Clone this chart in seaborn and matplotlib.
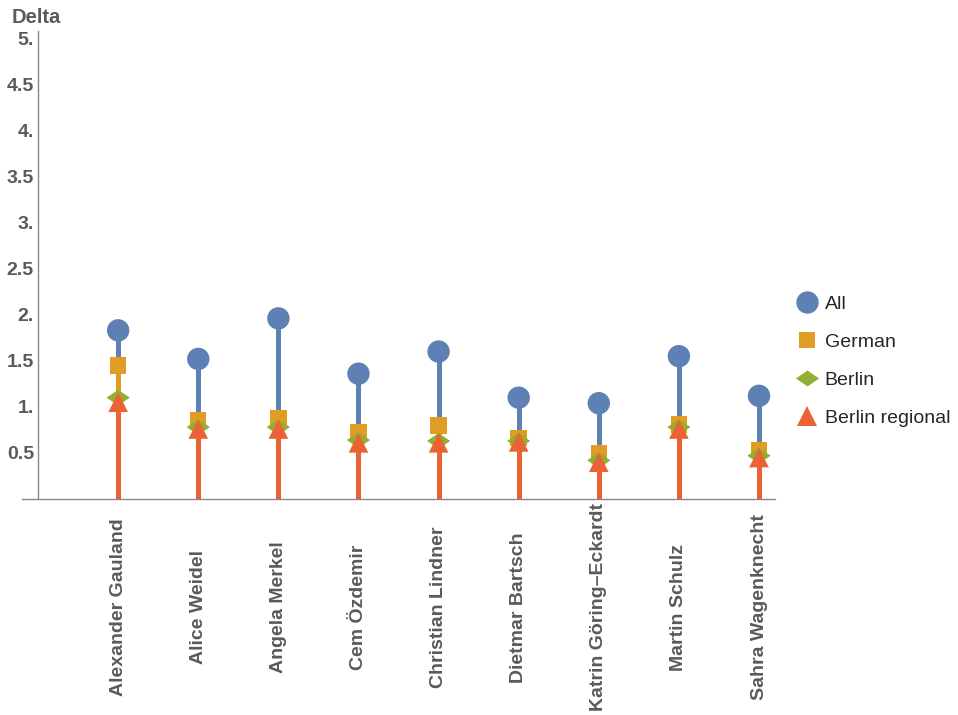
import numpy as np
import pandas as pd
import seaborn as sns
import matplotlib.pyplot as plt
from matplotlib.lines import Line2D
from matplotlib.ticker import FixedLocator

# data
politicians = ['Alexander Gauland', 'Alice Weidel', 'Angela Merkel', 'Cem Özdemir',
               'Christian Lindner', 'Dietmar Bartsch', 'Katrin Göring–Eckardt',
               'Martin Schulz', 'Sahra Wagenknecht']
delta_all = [1.83, 1.52, 1.96, 1.36, 1.60, 1.10, 1.04, 1.55, 1.12]
delta_german = [1.45, 0.86, 0.88, 0.72, 0.80, 0.66, 0.50, 0.81, 0.53]
delta_berlin = [1.10, 0.78, 0.78, 0.64, 0.63, 0.63, 0.42, 0.78, 0.47]
delta_regional = [1.05, 0.76, 0.76, 0.61, 0.61, 0.62, 0.40, 0.76, 0.45]

series_names = ['All', 'German', 'Berlin', 'Berlin regional']
ytick_values = [0.5, 1, 1.5, 2, 2.5, 3, 3.5, 4, 4.5, 5]
ytick_labels = ['0.5', '1.', '1.5', '2.', '2.5', '3.', '3.5', '4.', '4.5', '5.']

cores = ['#5E81B5', '#E19C24', '#8FB032', '#EB6235']
flat_diamond = [(-1, 0), (0, 0.68), (1, 0), (0, -0.68), (-1, 0)]
marcadores = ['o', 's', flat_diamond, '^']
tamanhos = [260, 140, 280, 200]

sns.set_style('white')
plt.rcParams['font.family'] = ['Liberation Sans', 'DejaVu Sans']
cinza = '#5a5a5a'

fig = plt.figure(figsize=(9.58, 7.15), dpi=100)
ax = fig.add_axes([0.023, 0.302, 0.786, 0.655])

pos = np.arange(1, len(politicians) + 1)
valores = [delta_all, delta_german, delta_berlin, delta_regional]

# hastes primeiro (mesma largura, a última cobre as anteriores), marcadores por cima
for nome, vals, cor in zip(series_names, valores, cores):
    ax.vlines(pos, 0, vals, color=cor, linewidth=3.5, zorder=2, antialiased=False)
for nome, vals, cor, m, s in zip(series_names, valores, cores, marcadores, tamanhos):
    df = pd.DataFrame({'x': pos, 'y': vals})
    sns.scatterplot(data=df, x='x', y='y', marker=m, s=s, color=cor,
                    edgecolor='none', linewidth=0, ax=ax, zorder=3, legend=False)

ax.set_xlim(-0.2, 9.2)
ax.set_ylim(0, 5.08)
ax.set_xlabel('')
ax.set_ylabel('')

ax.spines['top'].set_visible(False)
ax.spines['right'].set_visible(False)
ax.spines['left'].set_position(('data', 0))
for sp in ['left', 'bottom']:
    ax.spines[sp].set_color('#888888')
    ax.spines[sp].set_linewidth(1.0)

ax.yaxis.set_major_locator(FixedLocator(ytick_values))
ax.set_yticklabels(ytick_labels, fontsize=14, fontweight='bold', color=cinza)
ax.set_xticks(pos)
ax.set_xticklabels(politicians, rotation=90, fontsize=14, fontweight='bold',
                   color=cinza, va='center')
ax.tick_params(axis='both', length=0)
ax.tick_params(axis='y', pad=3)
ax.tick_params(axis='x', pad=78)

fig.text(0.012, 0.975, 'Delta', fontsize=14.5, fontweight='bold', color=cinza,
         ha='left', va='center')

handles = [Line2D([], [], linestyle='none', marker=m, color=c, markersize=np.sqrt(s),
                  markeredgewidth=0)
           for m, c, s in zip(marcadores, cores, tamanhos)]
fig.legend(handles, series_names, loc='upper left', bbox_to_anchor=(0.813, 0.612),
           frameon=False, fontsize=14, labelspacing=1.05, handletextpad=0.35,
           handlelength=1.1)

fig.savefig('out.png', dpi=100)
